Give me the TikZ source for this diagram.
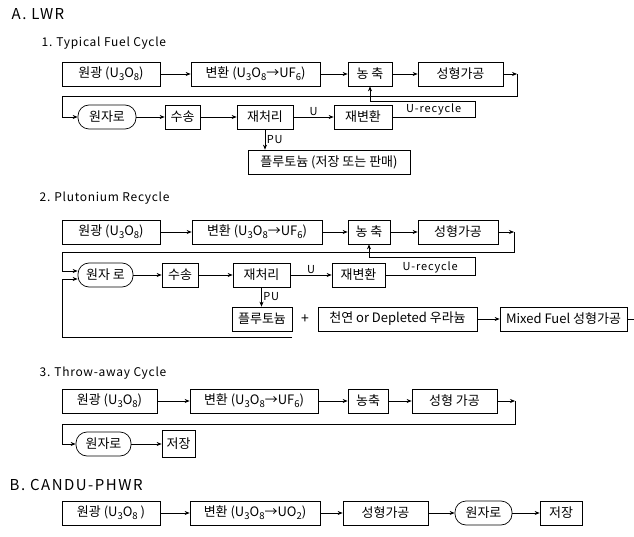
\documentclass[tikz,border=0pt]{standalone}
\usepackage{fontspec}
\setmainfont{Noto Sans CJK KR}
\usetikzlibrary{arrows.meta}
\newcommand\lsub[1]{\raisebox{-0.45ex}{\fontsize{9.5}{9.5}\selectfont #1}}

\begin{document}
\begin{tikzpicture}[x=1pt, y=-1pt, line width=0.7pt, >={Stealth[length=5pt,width=4pt]},
  box/.style={draw, minimum height=24pt, inner sep=2pt, font=\fontsize{13}{14}\selectfont},
  rbox/.style={box, rounded corners=11pt},
  lbl/.style={font=\fontsize{11}{12}\selectfont\addfontfeature{LetterSpace=8}, inner sep=1.5pt},
  sect/.style={anchor=west, font=\fontsize{12}{13}\selectfont\addfontfeature{LetterSpace=6}},
  head/.style={anchor=west, font=\fontsize{15}{16}\selectfont\addfontfeature{LetterSpace=10}}]

\useasboundingbox (0,0) rectangle (634,537);

% row heights
\def\ya{74}   \def\yb{117}
\def\yc{232}  \def\yd{275}  \def\ye{319}
\def\yf{401}  \def\yg{444}
\def\yh{513}

% Headings
\node[head] (hA) at (8,14) {A. LWR};
\node[sect] (h1) at (38,43) {1.\,\,Typical Fuel Cycle};
\node[sect] (h2) at (36,198) {2.\,\,Plutonium Recycle};
\node[sect] (h3) at (36,373) {3.\,\,Throw-away Cycle};
\node[head] (hB) at (6,485) {B. CANDU-PHWR};

% 1. Typical fuel cycle
\node[box, minimum width=98pt] (s1ore) at (111,\ya) {원광 (U\lsub{3}O\lsub{8})};
\node[box, minimum width=129pt] (s1conv) at (255.5,\ya) {변환 (U\lsub{3}O\lsub{8}→UF\lsub{6})};
\node[box, minimum width=44pt] (s1enr) at (370,\ya) {농 축};
\node[box, minimum width=85pt] (s1fab) at (460.5,\ya) {성형가공};
\node[rbox, minimum width=58pt] (s1reac) at (107,\yb) {원자로};
\node[box, minimum width=35pt] (s1trans) at (182.5,\yb) {수송};
\node[box, minimum width=56pt] (s1repr) at (265,\yb) {재처리};
\node[box, minimum width=58pt] (s1reconv) at (363,\yb) {재변환};
\node[box, minimum width=162pt] (s1pu) at (329,162) {플루토늄 (저장 또는 판매)};
\coordinate (s1turn) at (517,\ya);

\draw[->] (s1ore) -- (s1conv);
\draw[->] (s1conv) -- (s1enr);
\draw[->] (s1enr) -- (s1fab);
\draw[->] (s1fab) -- (s1turn);
\draw[->] (s1turn) -- (517,96) -- (62,96) |- (s1reac);
\draw[->] (s1reac) -- (s1trans);
\draw[->] (s1trans) -- (s1repr);
\draw[->] (s1repr) -- node[lbl, above] {U} (s1reconv);
\draw[->] (s1repr.south) -- node[lbl, right] {PU} (s1repr.south |- s1pu.north);
\draw[->] (s1reconv.east) -| node[lbl, above, pos=0.25] {U-recycle} (475,101) -| (s1enr.south);

% 2. Plutonium recycle
\node[box, minimum width=98pt] (s2ore) at (111,\yc) {원광 (U\lsub{3}O\lsub{8})};
\node[box, minimum width=130pt] (s2conv) at (257,\yc) {변환 (U\lsub{3}O\lsub{8}→UF\lsub{6})};
\node[box, minimum width=42pt] (s2enr) at (369,\yc) {농 축};
\node[box, minimum width=80pt] (s2fab) at (458,\yc) {성형가공};
\node[rbox, minimum width=55pt] (s2reac) at (105.5,\yd) {원자 로};
\node[box, minimum width=36pt] (s2trans) at (180,\yd) {수송};
\node[box, minimum width=57pt] (s2repr) at (261.5,\yd) {재처리};
\node[box, minimum width=53pt] (s2reconv) at (358.5,\yd) {재변환};
\node[box, minimum width=60pt] (s2pu) at (262,\ye) {플루토늄};
\node[lbl, font=\fontsize{14}{14}\selectfont] (s2plus) at (305,\ye) {+};
\node[box, minimum width=159pt] (s2nat) at (397.5,\ye) {천연 or Depleted 우라늄};
\node[box, minimum width=127pt, inner xsep=1pt] (s2mix) at (563.5,\ye) {Mixed Fuel 성형가공};
\coordinate (s2turn) at (514,\yc);
\coordinate (s2out) at (634,\ye);
\coordinate (s2back) at (292,337);

\draw[->] (s2ore) -- (s2conv);
\draw[->] (s2conv) -- (s2enr);
\draw[->] (s2enr) -- (s2fab);
\draw[->] (s2fab) -- (s2turn);
\draw[->] (s2turn) -- (514,252) -- (62,252) |- ([yshift=4pt]s2reac.west);
\draw[->] (s2back) -| (62,279) -- ([yshift=-4pt]s2reac.west);
\draw[->] (s2reac) -- (s2trans);
\draw[->] (s2trans) -- (s2repr);
\draw[->] (s2repr) -- node[lbl, above] {U} (s2reconv);
\draw[->] (s2repr.south) -- node[lbl, right] {PU} (s2repr.south |- s2pu.north);
\draw[->] (s2reconv.east) -| node[lbl, above, pos=0.25] {U-recycle} (475,257) -| (s2enr.south);
\draw[->] (s2nat) -- (s2mix);
\draw (s2mix) -- (s2out);

% 3. Throw-away cycle
\node[box, minimum width=95pt] (s3ore) at (109.5,\yf) {원광 (U\lsub{3}O\lsub{8})};
\node[box, minimum width=128pt] (s3conv) at (254,\yf) {변환 (U\lsub{3}O\lsub{8}→UF\lsub{6})};
\node[box, minimum width=40pt] (s3enr) at (368,\yf) {농축};
\node[box, minimum width=85pt] (s3fab) at (454.5,\yf) {성형 가공};
\node[rbox, minimum width=55pt] (s3reac) at (103.5,\yg) {원자로};
\node[box, minimum width=33pt, minimum height=27pt] (s3stor) at (178.5,\yg) {저장};
\coordinate (s3turn) at (515,\yf);

\draw[->] (s3ore) -- (s3conv);
\draw[->] (s3conv) -- (s3enr);
\draw[->] (s3enr) -- (s3fab);
\draw[->] (s3fab) -- (s3turn);
\draw[->] (s3turn) -- (515,424) -- (62,424) |- (s3reac);
\draw[->] (s3reac) -- (s3stor);

% B. CANDU-PHWR
\node[box, minimum width=98pt] (bore) at (111,\yh) {원광 (U\lsub{3}O\lsub{8} )};
\node[box, minimum width=130pt] (bconv) at (255,\yh) {변환 (U\lsub{3}O\lsub{8}→UO\lsub{2})};
\node[box, minimum width=85pt] (bfab) at (385.5,\yh) {성형가공};
\node[rbox, minimum width=57pt] (breac) at (483.5,\yh) {원자로};
\node[box, minimum width=42pt] (bstor) at (561,\yh) {저장};

\draw[->] (bore) -- (bconv);
\draw[->] (bconv) -- (bfab);
\draw[->] (bfab) -- (breac);
\draw[->] (breac) -- (bstor);

\end{tikzpicture}
\end{document}
